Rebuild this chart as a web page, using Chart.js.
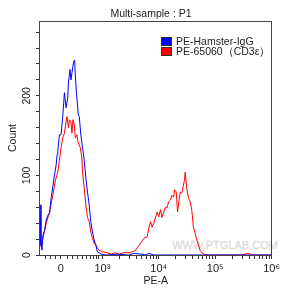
<!DOCTYPE html>
<html>
<head>
<meta charset="utf-8">
<script src="https://cdn.jsdelivr.net/npm/chart.js@4.4.0/dist/chart.umd.min.js"></script>
<style>
  html, body { margin: 0; padding: 0; background: #fff; }
  canvas { display: block; }
</style>
</head>
<body>
<canvas id="chart" width="283" height="293"></canvas>
<script>
// x is in logicle display units: 0 = value 0, one unit per decade above 10^3
const igGX = [-0.368, -0.351, -0.333, -0.316, -0.286, -0.258, -0.228, -0.198, -0.170, -0.140, -0.111, -0.082, -0.065, -0.053, -0.023, 0.005, 0.035, 0.053, 0.065, 0.093, 0.123, 0.135, 0.163, 0.181, 0.211, 0.228, 0.246, 0.258, 0.281, 0.311, 0.328, 0.356, 0.386, 0.416, 0.444, 0.474, 0.504, 0.532, 0.561, 0.591, 0.619, 0.649, 0.679, 0.719, 0.80, 1.00, 1.20, 1.30, 1.44, 1.50, 1.56, 1.65, 2.0, 2.5, 3.0, 3.737];
const igGY = [63, 13, 6, 25, 31, 44, 50, 53, 72, 86, 101, 113, 126, 130, 151, 151, 174, 192, 204, 185, 197, 216, 233, 220, 235, 243, 245, 226, 201, 176, 174, 151, 135, 119, 97, 79, 63, 42, 29, 19, 13, 4, 3, 1, 0, 1, 0, 2, 1, 0, 2, 0, 0, 0, 0, 0];

const cd3X = [-0.368, -0.346, -0.316, -0.286, -0.258, -0.228, -0.198, -0.170, -0.140, -0.111, -0.082, -0.053, -0.023, 0.005, 0.035, 0.065, 0.093, 0.111, 0.135, 0.153, 0.181, 0.198, 0.216, 0.240, 0.258, 0.286, 0.311, 0.346, 0.374, 0.386, 0.416, 0.444, 0.474, 0.504, 0.532, 0.561, 0.591, 0.619, 0.649, 0.679, 0.737, 0.825, 0.895, 0.965, 1.035, 1.123, 1.240, 1.328, 1.356, 1.416, 1.474, 1.532, 1.561, 1.591, 1.619, 1.649, 1.707, 1.737, 1.767, 1.795, 1.825, 1.854, 1.882, 1.912, 1.942, 1.970, 2.000, 2.018, 2.047, 2.070, 2.093, 2.118, 2.146, 2.175, 2.193, 2.205, 2.233, 2.263, 2.293, 2.321, 2.351, 2.381, 2.409, 2.439, 2.468, 2.496, 2.544, 2.614, 3.20, 3.316, 3.40, 3.737];
const cd3Y = [20, 10, 21, 31, 40, 47, 53, 65, 75, 88, 97, 104, 119, 135, 147, 153, 167, 174, 160, 170, 167, 153, 170, 164, 147, 151, 141, 135, 122, 104, 84, 63, 47, 42, 29, 21, 15, 13, 9, 6, 4, 3, 1, 3, 1, 3, 3, 6, 9, 15, 21, 23, 34, 42, 35, 40, 54, 48, 57, 47, 54, 60, 59, 67, 69, 75, 73, 82, 79, 54, 67, 79, 78, 88, 94, 104, 84, 72, 67, 57, 35, 28, 19, 13, 6, 3, 1, 0, 0, 2, 0, 0];

const seriesLabels = ['PE-Hamster-IgG', 'PE-65060（CD3ε）'];
const seriesColors = ['#0000ff', '#ff0000'];

const xMajorTicks = [0, 0.737, 1.737, 2.737, 3.737];
const xMajorLabels = ['0', '10³', '10⁴', '10⁵', '10⁶'];
const xLinearMinor = [-0.268, -0.181, -0.088, 0.118, 0.205, 0.304, 0.391, 0.461, 0.521, 0.579, 0.626, 0.672];
const yTicks = [0, 20, 40, 60, 80, 100, 120, 140, 160, 180, 200, 220, 240, 260, 280];
const yLabels = ['0', '100', '200'];

const font = 'Liberation Sans, Arial, sans-serif';
const ink = '#333';

const xMinor = xLinearMinor.slice();
for (let d = 0; d < 3; d++) {
  for (let m = 2; m <= 9; m++) xMinor.push(xMajorTicks[1] + d + Math.log10(m));
}

const toPoints = (xs, ys) => xs.map((x, i) => ({ x: x, y: ys[i] }));

const decor = {
  id: 'decor',
  beforeDatasetsDraw(chart) {
    const ctx = chart.ctx;
    ctx.save();
    ctx.font = '11px ' + font;
    ctx.fillStyle = 'rgba(200,200,200,0.4)';
    ctx.strokeStyle = 'rgba(200,200,200,0.5)';
    ctx.lineWidth = 0.6;
    ctx.textAlign = 'center';
    ctx.textBaseline = 'middle';
    ctx.fillText('WWW.PTGLAB.COM', 225, 246);
    ctx.strokeText('WWW.PTGLAB.COM', 225, 246);
    ctx.restore();
  },
  afterDraw(chart) {
    const ctx = chart.ctx;
    const a = chart.chartArea;
    ctx.save();
    ctx.strokeStyle = '#444';
    ctx.lineWidth = 1;
    ctx.strokeRect(Math.round(a.left) - 0.5, Math.round(a.top) + 0.5, Math.round(a.right - a.left), Math.round(a.bottom - a.top));

    ctx.fillStyle = '#222';
    ctx.font = '10.5px ' + font;
    ctx.textAlign = 'center';
    ctx.textBaseline = 'middle';
    ctx.fillText('Multi-sample : P1', 151, 14);

    ctx.textAlign = 'left';
    chart.data.datasets.forEach((ds, i) => {
      const y = 37 + i * 10;
      ctx.fillStyle = ds.borderColor;
      ctx.fillRect(161, y, 11, 9);
      ctx.strokeStyle = '#333';
      ctx.strokeRect(161.5, y + 0.5, 10, 8);
      ctx.fillStyle = '#222';
      ctx.fillText(ds.label, 176, y + 5);
    });
    ctx.restore();
  }
};

new Chart(document.getElementById('chart'), {
  type: 'line',
  data: {
    datasets: [
      { label: seriesLabels[0], data: toPoints(igGX, igGY), borderColor: seriesColors[0], borderWidth: 1, pointRadius: 0, tension: 0 },
      { label: seriesLabels[1], data: toPoints(cd3X, cd3Y), borderColor: seriesColors[1], borderWidth: 1, pointRadius: 0, tension: 0 }
    ]
  },
  options: {
    responsive: false,
    animation: false,
    devicePixelRatio: 1,
    layout: { padding: { left: 0, right: 9, top: 21, bottom: 0 } },
    plugins: { legend: { display: false }, tooltip: { enabled: false } },
    scales: {
      x: {
        type: 'linear',
        min: -0.368,
        max: 3.737,
        afterBuildTicks: (scale) => {
          scale.ticks = xMajorTicks.concat(xMinor).sort((p, q) => p - q).map(v => ({ value: v }));
        },
        afterFit: (scale) => { scale.height = 38; },
        border: { display: false },
        grid: { drawOnChartArea: false, drawTicks: true, tickLength: 4, color: ink },
        ticks: {
          autoSkip: false,
          maxRotation: 0,
          padding: 3,
          color: '#222',
          font: { family: font, size: 11 },
          callback: (v) => {
            const i = xMajorTicks.findIndex(t => Math.abs(t - v) < 1e-6);
            return i >= 0 ? xMajorLabels[i] : '';
          }
        },
        title: { display: true, text: 'PE-A', color: '#222', font: { family: font, size: 10.5 }, padding: { top: 0, bottom: 6 } }
      },
      y: {
        min: 0,
        max: 294,
        afterBuildTicks: (scale) => { scale.ticks = yTicks.map(v => ({ value: v })); },
        afterFit: (scale) => { scale.width = 40; },
        border: { display: false },
        grid: { drawOnChartArea: false, drawTicks: true, tickLength: 4, color: ink },
        ticks: {
          autoSkip: false,
          minRotation: 90,
          maxRotation: 90,
          crossAlign: 'center',
          padding: 0,
          color: '#222',
          font: { family: font, size: 10.5 },
          callback: (v) => (v % 100 === 0 ? yLabels[v / 100] : '')
        },
        title: { display: true, text: 'Count', color: '#222', font: { family: font, size: 10.5 }, padding: { top: 7, bottom: 0 } }
      }
    }
  },
  plugins: [decor]
});
</script>
</body>
</html>
